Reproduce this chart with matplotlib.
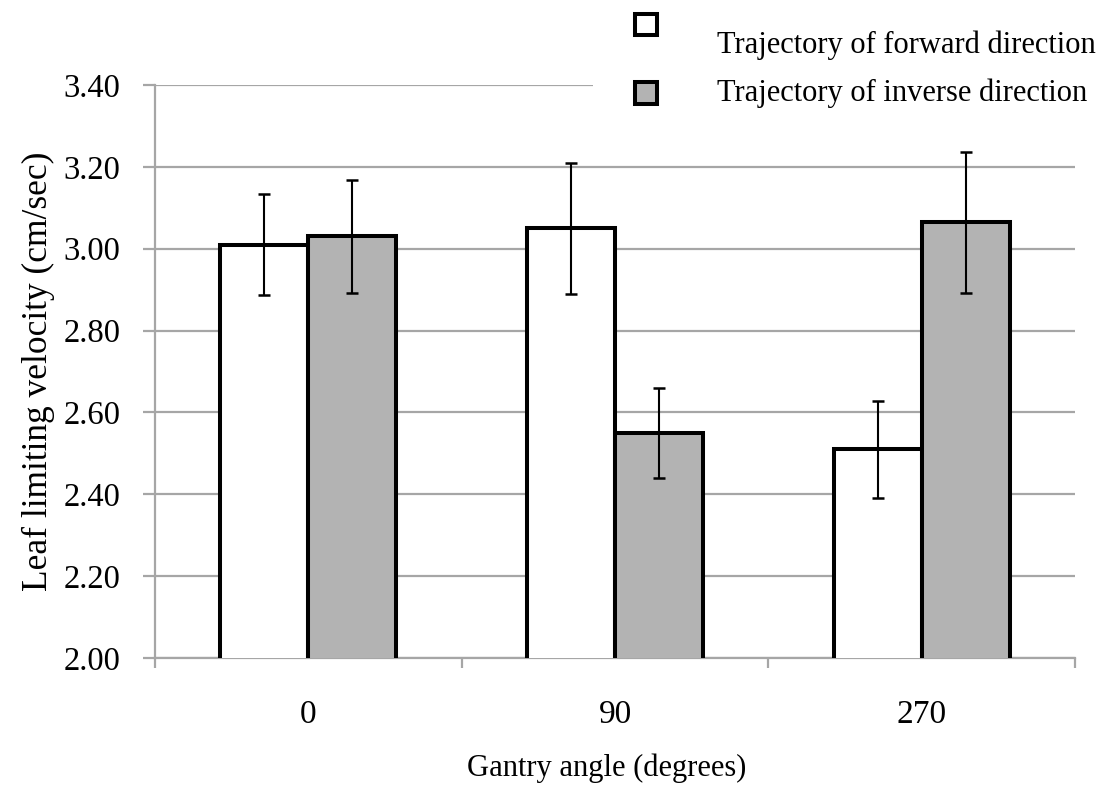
import matplotlib
matplotlib.use("Agg")
import matplotlib.pyplot as plt
from matplotlib.patches import Patch, Rectangle
from matplotlib.legend_handler import HandlerPatch
import numpy as np

# Leaf limiting velocity by gantry angle, for both trajectory directions
angles = ["0", "90", "270"]
forward_mean = [3.01, 3.05, 2.51]
forward_err = [0.124, 0.16, 0.118]
inverse_mean = [3.03, 2.55, 3.065]
inverse_err = [0.137, 0.11, 0.172]
series_labels = ["Trajectory of forward direction", "Trajectory of inverse direction"]
yticks = [2.00, 2.20, 2.40, 2.60, 2.80, 3.00, 3.20, 3.40]

plt.rcParams["font.family"] = ["Liberation Serif", "DejaVu Serif"]

fig = plt.figure(figsize=(11.07, 7.87), dpi=100)
ax = fig.add_axes([155 / 1107, 1 - 658 / 787, 920 / 1107, 573 / 787])

grid_c = "#a6a6a6"
x = np.arange(len(angles))
w = 0.287
bar_kw = dict(width=w, edgecolor="black", linewidth=2.9, align="edge", zorder=3)
err_kw = dict(ecolor="black", elinewidth=1.5, capsize=4, capthick=1.8, zorder=4)

ax.bar(x - w, forward_mean, color="white", yerr=forward_err, error_kw=err_kw, **bar_kw)
ax.bar(x, inverse_mean, color="#b3b3b3", yerr=inverse_err, error_kw=err_kw, **bar_kw)

ax.set_xlim(-0.5, len(angles) - 0.5)
ax.set_ylim(2.0, 3.4)
ax.set_yticks(yticks, labels=[f"{v:.2f}" for v in yticks])
ax.yaxis.grid(True, color=grid_c, linewidth=1.6, zorder=0)
ax.set_axisbelow(True)

ax.set_xticks(np.arange(len(angles) + 1) - 0.5, labels=[""] * (len(angles) + 1))
ax.set_xticks(x, labels=angles, minor=True)
ax.tick_params(axis="x", which="major", length=7.5, width=1.6, color=grid_c)
ax.tick_params(axis="x", which="minor", length=0, pad=30, labelsize=24)
ax.tick_params(axis="y", length=9, width=1.6, color=grid_c, pad=16, labelsize=23.5)

for side in ("top", "right"):
    ax.spines[side].set_visible(False)
for side in ("left", "bottom"):
    ax.spines[side].set_color(grid_c)
    ax.spines[side].set_linewidth(1.6)

ax.set_ylabel("Leaf limiting velocity (cm/sec)", fontsize=25.5, labelpad=6)
fig.text(607 / 1107, 1 - 768 / 787, "Gantry angle (degrees)", fontsize=22,
         ha="center", va="center")

# white panel behind the legend, over the top gridline
fig.patches.append(Rectangle((593 / 1107, 1 - 115 / 787), 1, 115 / 787,
                             transform=fig.transFigure, facecolor="white",
                             edgecolor="none", zorder=1))


def square_key(lift):
    def make(legend, orig_handle, xdescent, ydescent, width, height, fontsize):
        return Rectangle((-xdescent, -ydescent + lift), width, height)
    return HandlerPatch(patch_func=make)


handles = [Patch(facecolor="white", edgecolor="black", linewidth=2.9),
           Patch(facecolor="#b3b3b3", edgecolor="black", linewidth=2.9)]
leg = fig.legend(handles, series_labels, loc="upper left",
                 bbox_to_anchor=(635 / 1107, 1 - 30 / 787), frameon=False,
                 fontsize=22, handlelength=0.72, handleheight=0.72,
                 handletextpad=1.95, labelspacing=0.63, borderpad=0,
                 borderaxespad=0,
                 handler_map={handles[0]: square_key(12.5),
                              handles[1]: square_key(-2)})
leg.set_zorder(2)

fig.savefig("out.png", dpi=100)
